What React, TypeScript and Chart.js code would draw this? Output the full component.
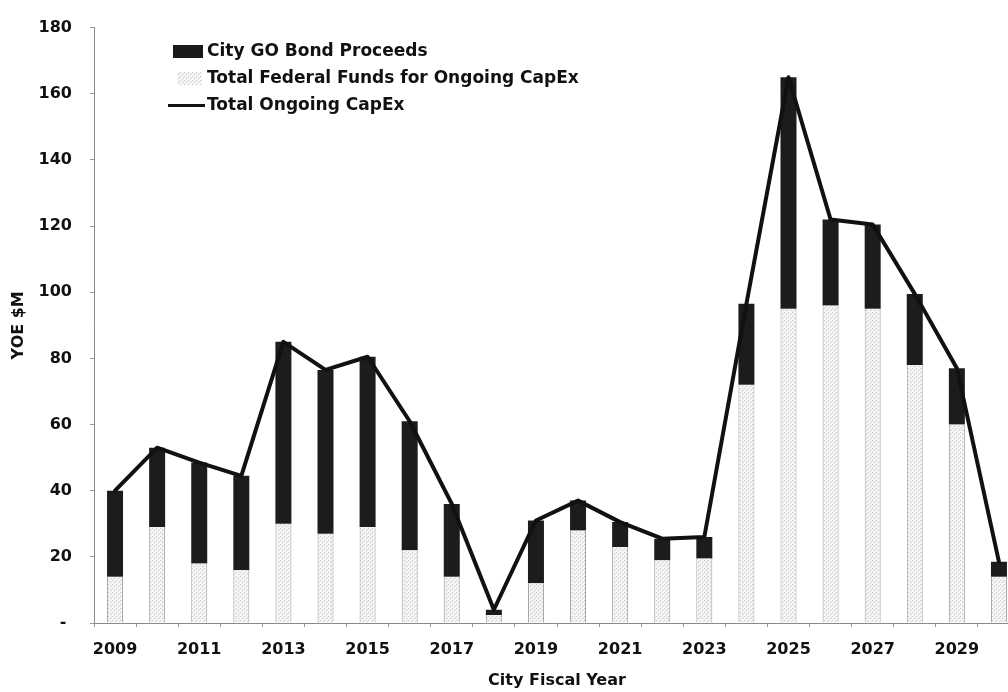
import React, { useEffect, useRef } from "react";
import { Chart, registerables } from "chart.js";

Chart.register(...registerables);

const years = [
  "2009", "2010", "2011", "2012", "2013", "2014", "2015", "2016", "2017", "2018", "2019",
  "2020", "2021", "2022", "2023", "2024", "2025", "2026", "2027", "2028", "2029", "2030",
];
const federalFunds = [14, 29, 18, 16, 30, 27, 29, 22, 14, 2.4, 12, 28, 23, 19, 19.5, 72, 95, 96, 95, 78, 60, 14];
const goBond = [26, 24, 30.5, 28.5, 55, 49.5, 51.5, 39, 22, 1.6, 19, 9, 7.5, 6.5, 6.5, 24.5, 70, 26, 25.5, 21.5, 17, 4.5];
const totalCapEx = [40, 53, 48.5, 44.5, 85, 76.5, 80.5, 61, 36, 4, 31, 37, 30.5, 25.5, 26, 96.5, 165, 122, 120.5, 99.5, 77, 18.5];
const yTicks = [0, 20, 40, 60, 80, 100, 120, 140, 160, 180];

const legendLabels = ["City GO Bond Proceeds", "Total Federal Funds for Ongoing CapEx", "Total Ongoing CapEx"];

function makePattern(): CanvasPattern | string {
  const c = document.createElement("canvas");
  c.width = 4;
  c.height = 4;
  const ctx = c.getContext("2d");
  if (!ctx) return "#eeeeee";
  ctx.fillStyle = "#f4f4f4";
  ctx.fillRect(0, 0, 4, 4);
  ctx.fillStyle = "#c8c8c8";
  ctx.fillRect(0, 0, 1, 1);
  ctx.fillRect(2, 2, 1, 1);
  ctx.fillStyle = "#dedede";
  ctx.fillRect(3, 1, 1, 1);
  const p = ctx.createPattern(c, "repeat");
  return p || "#eeeeee";
}

export default function App() {
  const ref = useRef<HTMLCanvasElement | null>(null);

  useEffect(() => {
    if (!ref.current) return;
    const pattern = makePattern();
    const font = "DejaVu Sans";
    const ink = "#111111";

    const legendPlugin = {
      id: "insideLegend",
      afterDraw(chart: any) {
        const ctx = chart.ctx;
        ctx.save();
        ctx.fillStyle = "#1a1a1a";
        ctx.fillRect(173, 45, 30, 13);
        ctx.fillStyle = pattern as any;
        ctx.fillRect(177, 72, 25, 13);
        ctx.strokeStyle = "#111";
        ctx.lineWidth = 3;
        ctx.beginPath();
        ctx.moveTo(168, 105.5);
        ctx.lineTo(205, 105.5);
        ctx.stroke();
        ctx.fillStyle = ink;
        ctx.font = `bold 17px '${font}'`;
        ctx.textBaseline = "middle";
        ctx.textAlign = "left";
        const ys = [52, 79, 106];
        legendLabels.forEach((t, i) => ctx.fillText(t, 207, ys[i]));
        ctx.restore();
      },
    };

    const chart = new Chart(ref.current, {
      type: "bar",
      data: {
        labels: years,
        datasets: [
          {
            type: "bar",
            label: legendLabels[1],
            data: federalFunds,
            backgroundColor: pattern as any,
            borderColor: "#a0a0a0",
            borderWidth: { left: 1, right: 1, top: 0, bottom: 0 } as any,
            borderSkipped: false as any,
            stack: "a",
            order: 1,
            barPercentage: 0.38,
            categoryPercentage: 1,
          },
          {
            type: "bar",
            label: legendLabels[0],
            data: goBond,
            backgroundColor: "#1c1c1c",
            borderWidth: 0,
            stack: "a",
            order: 1,
            barPercentage: 0.38,
            categoryPercentage: 1,
          },
          {
            type: "line",
            label: legendLabels[2],
            data: totalCapEx,
            borderColor: "#111111",
            borderWidth: 4,
            borderJoinStyle: "round",
            borderCapStyle: "round",
            pointRadius: 0,
            tension: 0,
            stack: "b",
            order: 0,
          } as any,
        ],
      },
      options: {
        responsive: false,
        animation: false,
        layout: { padding: { top: 18, right: 10, left: 0, bottom: 0 } },
        plugins: {
          legend: { display: false },
          tooltip: { enabled: false },
        },
        scales: {
          x: {
            stacked: true,
            afterFit: (s: any) => {
              s.height = 69;
            },
            grid: { drawOnChartArea: false, drawTicks: true, tickLength: 4, color: "#9a9a9a" },
            border: { display: true, color: "#8a8a8a", dash: [2, 2], width: 1 },
            ticks: {
              autoSkip: false,
              maxRotation: 0,
              padding: 13,
              color: ink,
              font: { family: font, size: 16, weight: "bold" },
              callback: (_v: any, i: number) => (i % 2 === 0 ? years[i] : ""),
            },
            title: {
              display: true,
              text: "City Fiscal Year",
              color: ink,
              font: { family: font, size: 16, weight: "bold" },
              padding: { top: 0, bottom: 2 },
            },
          },
          y: {
            stacked: true,
            min: 0,
            max: 180,
            afterFit: (s: any) => {
              s.width = 94;
            },
            afterBuildTicks: (s: any) => {
              s.ticks = yTicks.map((v) => ({ value: v }));
            },
            grid: { drawOnChartArea: false, drawTicks: true, tickLength: 4, color: "#9a9a9a" },
            border: { display: true, color: "#8a8a8a", dash: [2, 2], width: 1 },
            ticks: {
              padding: 18,
              color: ink,
              font: { family: font, size: 16, weight: "bold" },
              callback: (v: any) => (v === 0 ? "- " : String(v)),
            },
            title: {
              display: true,
              text: "YOE $M",
              color: ink,
              font: { family: font, size: 16, weight: "bold" },
              padding: { top: 9, bottom: 0 },
            },
          },
        },
      },
      plugins: [legendPlugin],
    });
    return () => chart.destroy();
  }, []);

  return (
    <div style={{ position: "fixed", left: 0, top: 0, width: 1008, height: 692, overflow: "hidden", background: "#fff" }}>
      <canvas ref={ref} width={1030} height={692} style={{ display: "block" }} />
    </div>
  );
}
